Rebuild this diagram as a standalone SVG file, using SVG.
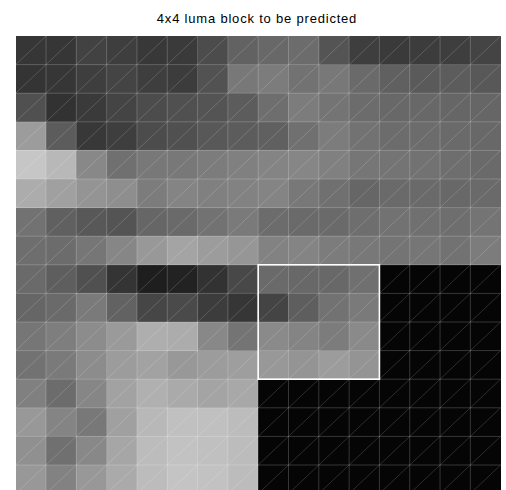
<svg xmlns="http://www.w3.org/2000/svg" width="506" height="490" viewBox="0 0 506 490">
<style>
.t{font-family:"Liberation Sans",Arial,sans-serif;font-size:13px;fill:#000;letter-spacing:0.8px}
.gl{fill:none;stroke:#fff;stroke-opacity:0.2;stroke-width:1}
.dg{fill:none;stroke:#fff;stroke-opacity:0.28;stroke-width:0.6}
.bx{fill:none;stroke:#fff;stroke-width:1.6}
</style>
<rect width="506" height="490" fill="#fff"/>
<text id="title" class="t" x="257" y="23" text-anchor="middle">4x4 luma block to be predicted</text>
<g id="cells" transform="translate(15.7 36) scale(30.31 28.6)" shape-rendering="crispEdges">
<g id="row0">
<rect x="0" y="0" width="1" height="1" fill="#363636"/><rect x="1" y="0" width="1" height="1" fill="#363636"/><rect x="2" y="0" width="1" height="1" fill="#424242"/><rect x="3" y="0" width="1" height="1" fill="#3e3e3e"/><rect x="4" y="0" width="1" height="1" fill="#383838"/><rect x="5" y="0" width="1" height="1" fill="#3a3a3a"/><rect x="6" y="0" width="1" height="1" fill="#4c4c4c"/><rect x="7" y="0" width="1" height="1" fill="#626262"/><rect x="8" y="0" width="1" height="1" fill="#686868"/><rect x="9" y="0" width="1" height="1" fill="#6c6c6c"/><rect x="10" y="0" width="1" height="1" fill="#545454"/><rect x="11" y="0" width="1" height="1" fill="#3e3e3e"/><rect x="12" y="0" width="1" height="1" fill="#3a3a3a"/><rect x="13" y="0" width="1" height="1" fill="#3c3c3c"/><rect x="14" y="0" width="1" height="1" fill="#3e3e3e"/><rect x="15" y="0" width="1" height="1" fill="#444444"/>
</g>
<g id="row1">
<rect x="0" y="1" width="1" height="1" fill="#343434"/><rect x="1" y="1" width="1" height="1" fill="#363636"/><rect x="2" y="1" width="1" height="1" fill="#3e3e3e"/><rect x="3" y="1" width="1" height="1" fill="#444444"/><rect x="4" y="1" width="1" height="1" fill="#3e3e3e"/><rect x="5" y="1" width="1" height="1" fill="#3c3c3c"/><rect x="6" y="1" width="1" height="1" fill="#525252"/><rect x="7" y="1" width="1" height="1" fill="#787878"/><rect x="8" y="1" width="1" height="1" fill="#7c7c7c"/><rect x="9" y="1" width="1" height="1" fill="#727272"/><rect x="10" y="1" width="1" height="1" fill="#787878"/><rect x="11" y="1" width="1" height="1" fill="#6a6a6a"/><rect x="12" y="1" width="1" height="1" fill="#606060"/><rect x="13" y="1" width="1" height="1" fill="#5a5a5a"/><rect x="14" y="1" width="1" height="1" fill="#5c5c5c"/><rect x="15" y="1" width="1" height="1" fill="#585858"/>
</g>
<g id="row2">
<rect x="0" y="2" width="1" height="1" fill="#505050"/><rect x="1" y="2" width="1" height="1" fill="#323232"/><rect x="2" y="2" width="1" height="1" fill="#3a3a3a"/><rect x="3" y="2" width="1" height="1" fill="#444444"/><rect x="4" y="2" width="1" height="1" fill="#4c4c4c"/><rect x="5" y="2" width="1" height="1" fill="#505050"/><rect x="6" y="2" width="1" height="1" fill="#545454"/><rect x="7" y="2" width="1" height="1" fill="#5c5c5c"/><rect x="8" y="2" width="1" height="1" fill="#6e6e6e"/><rect x="9" y="2" width="1" height="1" fill="#7c7c7c"/><rect x="10" y="2" width="1" height="1" fill="#747474"/><rect x="11" y="2" width="1" height="1" fill="#6c6c6c"/><rect x="12" y="2" width="1" height="1" fill="#686868"/><rect x="13" y="2" width="1" height="1" fill="#686868"/><rect x="14" y="2" width="1" height="1" fill="#666666"/><rect x="15" y="2" width="1" height="1" fill="#666666"/>
</g>
<g id="row3">
<rect x="0" y="3" width="1" height="1" fill="#9c9c9c"/><rect x="1" y="3" width="1" height="1" fill="#5c5c5c"/><rect x="2" y="3" width="1" height="1" fill="#383838"/><rect x="3" y="3" width="1" height="1" fill="#3e3e3e"/><rect x="4" y="3" width="1" height="1" fill="#4c4c4c"/><rect x="5" y="3" width="1" height="1" fill="#505050"/><rect x="6" y="3" width="1" height="1" fill="#585858"/><rect x="7" y="3" width="1" height="1" fill="#5c5c5c"/><rect x="8" y="3" width="1" height="1" fill="#606060"/><rect x="9" y="3" width="1" height="1" fill="#707070"/><rect x="10" y="3" width="1" height="1" fill="#7c7c7c"/><rect x="11" y="3" width="1" height="1" fill="#727272"/><rect x="12" y="3" width="1" height="1" fill="#6c6c6c"/><rect x="13" y="3" width="1" height="1" fill="#6c6c6c"/><rect x="14" y="3" width="1" height="1" fill="#6a6a6a"/><rect x="15" y="3" width="1" height="1" fill="#686868"/>
</g>
<g id="row4">
<rect x="0" y="4" width="1" height="1" fill="#c6c6c6"/><rect x="1" y="4" width="1" height="1" fill="#b8b8b8"/><rect x="2" y="4" width="1" height="1" fill="#888888"/><rect x="3" y="4" width="1" height="1" fill="#707070"/><rect x="4" y="4" width="1" height="1" fill="#787878"/><rect x="5" y="4" width="1" height="1" fill="#787878"/><rect x="6" y="4" width="1" height="1" fill="#7c7c7c"/><rect x="7" y="4" width="1" height="1" fill="#808080"/><rect x="8" y="4" width="1" height="1" fill="#848484"/><rect x="9" y="4" width="1" height="1" fill="#868686"/><rect x="10" y="4" width="1" height="1" fill="#808080"/><rect x="11" y="4" width="1" height="1" fill="#767676"/><rect x="12" y="4" width="1" height="1" fill="#747474"/><rect x="13" y="4" width="1" height="1" fill="#727272"/><rect x="14" y="4" width="1" height="1" fill="#6e6e6e"/><rect x="15" y="4" width="1" height="1" fill="#6a6a6a"/>
</g>
<g id="row5">
<rect x="0" y="5" width="1" height="1" fill="#acacac"/><rect x="1" y="5" width="1" height="1" fill="#a0a0a0"/><rect x="2" y="5" width="1" height="1" fill="#949494"/><rect x="3" y="5" width="1" height="1" fill="#8e8e8e"/><rect x="4" y="5" width="1" height="1" fill="#7c7c7c"/><rect x="5" y="5" width="1" height="1" fill="#848484"/><rect x="6" y="5" width="1" height="1" fill="#808080"/><rect x="7" y="5" width="1" height="1" fill="#828282"/><rect x="8" y="5" width="1" height="1" fill="#848484"/><rect x="9" y="5" width="1" height="1" fill="#787878"/><rect x="10" y="5" width="1" height="1" fill="#707070"/><rect x="11" y="5" width="1" height="1" fill="#666666"/><rect x="12" y="5" width="1" height="1" fill="#6a6a6a"/><rect x="13" y="5" width="1" height="1" fill="#6a6a6a"/><rect x="14" y="5" width="1" height="1" fill="#686868"/><rect x="15" y="5" width="1" height="1" fill="#6a6a6a"/>
</g>
<g id="row6">
<rect x="0" y="6" width="1" height="1" fill="#727272"/><rect x="1" y="6" width="1" height="1" fill="#606060"/><rect x="2" y="6" width="1" height="1" fill="#585858"/><rect x="3" y="6" width="1" height="1" fill="#545454"/><rect x="4" y="6" width="1" height="1" fill="#666666"/><rect x="5" y="6" width="1" height="1" fill="#6a6a6a"/><rect x="6" y="6" width="1" height="1" fill="#727272"/><rect x="7" y="6" width="1" height="1" fill="#7a7a7a"/><rect x="8" y="6" width="1" height="1" fill="#6c6c6c"/><rect x="9" y="6" width="1" height="1" fill="#6a6a6a"/><rect x="10" y="6" width="1" height="1" fill="#6a6a6a"/><rect x="11" y="6" width="1" height="1" fill="#6e6e6e"/><rect x="12" y="6" width="1" height="1" fill="#727272"/><rect x="13" y="6" width="1" height="1" fill="#707070"/><rect x="14" y="6" width="1" height="1" fill="#6e6e6e"/><rect x="15" y="6" width="1" height="1" fill="#747474"/>
</g>
<g id="row7">
<rect x="0" y="7" width="1" height="1" fill="#6e6e6e"/><rect x="1" y="7" width="1" height="1" fill="#6c6c6c"/><rect x="2" y="7" width="1" height="1" fill="#767676"/><rect x="3" y="7" width="1" height="1" fill="#868686"/><rect x="4" y="7" width="1" height="1" fill="#989898"/><rect x="5" y="7" width="1" height="1" fill="#a4a4a4"/><rect x="6" y="7" width="1" height="1" fill="#9c9c9c"/><rect x="7" y="7" width="1" height="1" fill="#969696"/><rect x="8" y="7" width="1" height="1" fill="#828282"/><rect x="9" y="7" width="1" height="1" fill="#848484"/><rect x="10" y="7" width="1" height="1" fill="#7c7c7c"/><rect x="11" y="7" width="1" height="1" fill="#787878"/><rect x="12" y="7" width="1" height="1" fill="#747474"/><rect x="13" y="7" width="1" height="1" fill="#767676"/><rect x="14" y="7" width="1" height="1" fill="#727272"/><rect x="15" y="7" width="1" height="1" fill="#7c7c7c"/>
</g>
<g id="row8">
<rect x="0" y="8" width="1" height="1" fill="#6a6a6a"/><rect x="1" y="8" width="1" height="1" fill="#5e5e5e"/><rect x="2" y="8" width="1" height="1" fill="#505050"/><rect x="3" y="8" width="1" height="1" fill="#343434"/><rect x="4" y="8" width="1" height="1" fill="#1e1e1e"/><rect x="5" y="8" width="1" height="1" fill="#222222"/><rect x="6" y="8" width="1" height="1" fill="#323232"/><rect x="7" y="8" width="1" height="1" fill="#484848"/><rect x="8" y="8" width="1" height="1" fill="#6a6a6a"/><rect x="9" y="8" width="1" height="1" fill="#686868"/><rect x="10" y="8" width="1" height="1" fill="#686868"/><rect x="11" y="8" width="1" height="1" fill="#707070"/>
</g>
<g id="row9">
<rect x="0" y="9" width="1" height="1" fill="#666666"/><rect x="1" y="9" width="1" height="1" fill="#6a6a6a"/><rect x="2" y="9" width="1" height="1" fill="#7a7a7a"/><rect x="3" y="9" width="1" height="1" fill="#626262"/><rect x="4" y="9" width="1" height="1" fill="#464646"/><rect x="5" y="9" width="1" height="1" fill="#4a4a4a"/><rect x="6" y="9" width="1" height="1" fill="#3c3c3c"/><rect x="7" y="9" width="1" height="1" fill="#363636"/><rect x="8" y="9" width="1" height="1" fill="#444444"/><rect x="9" y="9" width="1" height="1" fill="#5e5e5e"/><rect x="10" y="9" width="1" height="1" fill="#727272"/><rect x="11" y="9" width="1" height="1" fill="#7a7a7a"/>
</g>
<g id="row10">
<rect x="0" y="10" width="1" height="1" fill="#767676"/><rect x="1" y="10" width="1" height="1" fill="#7e7e7e"/><rect x="2" y="10" width="1" height="1" fill="#8c8c8c"/><rect x="3" y="10" width="1" height="1" fill="#9a9a9a"/><rect x="4" y="10" width="1" height="1" fill="#aeaeae"/><rect x="5" y="10" width="1" height="1" fill="#acacac"/><rect x="6" y="10" width="1" height="1" fill="#888888"/><rect x="7" y="10" width="1" height="1" fill="#747474"/><rect x="8" y="10" width="1" height="1" fill="#8a8a8a"/><rect x="9" y="10" width="1" height="1" fill="#848484"/><rect x="10" y="10" width="1" height="1" fill="#7c7c7c"/><rect x="11" y="10" width="1" height="1" fill="#8a8a8a"/>
</g>
<g id="row11">
<rect x="0" y="11" width="1" height="1" fill="#727272"/><rect x="1" y="11" width="1" height="1" fill="#7a7a7a"/><rect x="2" y="11" width="1" height="1" fill="#8c8c8c"/><rect x="3" y="11" width="1" height="1" fill="#9c9c9c"/><rect x="4" y="11" width="1" height="1" fill="#a2a2a2"/><rect x="5" y="11" width="1" height="1" fill="#989898"/><rect x="6" y="11" width="1" height="1" fill="#9c9c9c"/><rect x="7" y="11" width="1" height="1" fill="#9e9e9e"/><rect x="8" y="11" width="1" height="1" fill="#989898"/><rect x="9" y="11" width="1" height="1" fill="#949494"/><rect x="10" y="11" width="1" height="1" fill="#9c9c9c"/><rect x="11" y="11" width="1" height="1" fill="#949494"/>
</g>
<g id="row12">
<rect x="0" y="12" width="1" height="1" fill="#808080"/><rect x="1" y="12" width="1" height="1" fill="#6c6c6c"/><rect x="2" y="12" width="1" height="1" fill="#868686"/><rect x="3" y="12" width="1" height="1" fill="#a2a2a2"/><rect x="4" y="12" width="1" height="1" fill="#b0b0b0"/><rect x="5" y="12" width="1" height="1" fill="#aaaaaa"/><rect x="6" y="12" width="1" height="1" fill="#a4a4a4"/><rect x="7" y="12" width="1" height="1" fill="#a8a8a8"/>
</g>
<g id="row13">
<rect x="0" y="13" width="1" height="1" fill="#989898"/><rect x="1" y="13" width="1" height="1" fill="#848484"/><rect x="2" y="13" width="1" height="1" fill="#787878"/><rect x="3" y="13" width="1" height="1" fill="#a0a0a0"/><rect x="4" y="13" width="1" height="1" fill="#b8b8b8"/><rect x="5" y="13" width="1" height="1" fill="#c0c0c0"/><rect x="6" y="13" width="1" height="1" fill="#c0c0c0"/><rect x="7" y="13" width="1" height="1" fill="#bcbcbc"/>
</g>
<g id="row14">
<rect x="0" y="14" width="1" height="1" fill="#909090"/><rect x="1" y="14" width="1" height="1" fill="#707070"/><rect x="2" y="14" width="1" height="1" fill="#888888"/><rect x="3" y="14" width="1" height="1" fill="#a6a6a6"/><rect x="4" y="14" width="1" height="1" fill="#bcbcbc"/><rect x="5" y="14" width="1" height="1" fill="#c2c2c2"/><rect x="6" y="14" width="1" height="1" fill="#c0c0c0"/><rect x="7" y="14" width="1" height="1" fill="#bcbcbc"/>
</g>
<g id="row15">
<rect x="0" y="15" width="1" height="1" fill="#989898"/><rect x="1" y="15" width="1" height="1" fill="#828282"/><rect x="2" y="15" width="1" height="1" fill="#989898"/><rect x="3" y="15" width="1" height="1" fill="#aaaaaa"/><rect x="4" y="15" width="1" height="1" fill="#bcbcbc"/><rect x="5" y="15" width="1" height="1" fill="#c4c4c4"/><rect x="6" y="15" width="1" height="1" fill="#c2c2c2"/><rect x="7" y="15" width="1" height="1" fill="#bcbcbc"/>
</g>
<g id="unknown" fill="#050505">
<rect x="12" y="8" width="4" height="4"/>
<rect x="8" y="12" width="8" height="4"/>
</g>
</g>
<g id="connectors" transform="translate(15.7 36) scale(30.31 28.6)">
<path id="grid" class="gl" vector-effect="non-scaling-stroke" d="M1 0V16M2 0V16M3 0V16M4 0V16M5 0V16M6 0V16M7 0V16M8 0V16M9 0V16M10 0V16M11 0V16M12 0V16M13 0V16M14 0V16M15 0V16M0 1H16M0 2H16M0 3H16M0 4H16M0 5H16M0 6H16M0 7H16M0 8H16M0 9H16M0 10H16M0 11H16M0 12H16M0 13H16M0 14H16M0 15H16"/>
<path id="diagonals" class="dg" vector-effect="non-scaling-stroke" d="M0 1L1 0M0 2L2 0M0 3L3 0M0 4L4 0M0 5L5 0M0 6L6 0M0 7L7 0M0 8L8 0M0 9L9 0M0 10L10 0M0 11L11 0M0 12L12 0M0 13L13 0M0 14L14 0M0 15L15 0M0 16L16 0M1 16L16 1M2 16L16 2M3 16L16 3M4 16L16 4M5 16L16 5M6 16L16 6M7 16L16 7M8 16L16 8M9 16L16 9M10 16L16 10M11 16L16 11M12 16L16 12M13 16L16 13M14 16L16 14M15 16L16 15"/>
</g>
<g id="block">
<rect class="bx" x="258.18" y="264.8" width="121.24" height="114.4"/>
</g>
</svg>
